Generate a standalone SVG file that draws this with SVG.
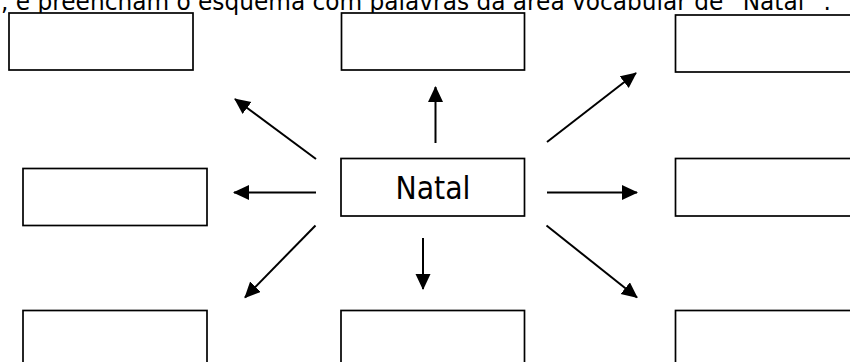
<svg xmlns="http://www.w3.org/2000/svg" width="850" height="362" viewBox="0 0 850 362">
<style>
.box{fill:#fff;stroke:#000;stroke-width:1.7}
.con{stroke:#000;stroke-width:2;fill:none;marker-end:url(#ah)}
.t{font-family:"DejaVu Sans","Liberation Sans",sans-serif;fill:#000}
</style>
<defs>
<marker id="ah" markerUnits="userSpaceOnUse" markerWidth="17" markerHeight="16" refX="15" refY="7.5" orient="auto">
<path d="M0,0 L16,7.5 L0,15 z" fill="#000"/>
</marker>
</defs>
<rect width="850" height="362" fill="#fff"/>
<text class="t" x="1" y="10" font-size="25" textLength="830" lengthAdjust="spacingAndGlyphs">, e preencham o esquema com palavras da área vocabular de “Natal” .</text>
<g id="connectors">
<line class="con" x1="316" y1="159" x2="235" y2="99"/>
<line class="con" x1="435.5" y1="143" x2="435.5" y2="87"/>
<line class="con" x1="547" y1="142" x2="636" y2="73"/>
<line class="con" x1="316" y1="192.5" x2="234" y2="192.5"/>
<line class="con" x1="547" y1="192.5" x2="637" y2="192.5"/>
<line class="con" x1="315.5" y1="225.5" x2="245" y2="297.5"/>
<line class="con" x1="423" y1="238" x2="423" y2="289"/>
<line class="con" x1="546.5" y1="225.5" x2="637" y2="297.5"/>
</g>
<g id="n-top-left"><rect class="box" x="9" y="13" width="184" height="57"/></g>
<g id="n-top-mid"><rect class="box" x="341.5" y="13" width="183" height="57"/></g>
<g id="n-top-right"><rect class="box" x="675.5" y="15" width="200" height="57"/></g>
<g id="n-mid-left"><rect class="box" x="23" y="168.5" width="184" height="57"/></g>
<g id="n-natal"><rect class="box" x="341" y="158.5" width="183.5" height="57.5"/>
<text class="t" x="433" y="198.5" font-size="32" text-anchor="middle" textLength="75" lengthAdjust="spacingAndGlyphs">Natal</text></g>
<g id="n-mid-right"><rect class="box" x="675.5" y="158.5" width="200" height="57.5"/></g>
<g id="n-bot-left"><rect class="box" x="23" y="310.5" width="184" height="80"/></g>
<g id="n-bot-mid"><rect class="box" x="341" y="310.5" width="183.5" height="80"/></g>
<g id="n-bot-right"><rect class="box" x="675.5" y="310.5" width="200" height="80"/></g>
</svg>
